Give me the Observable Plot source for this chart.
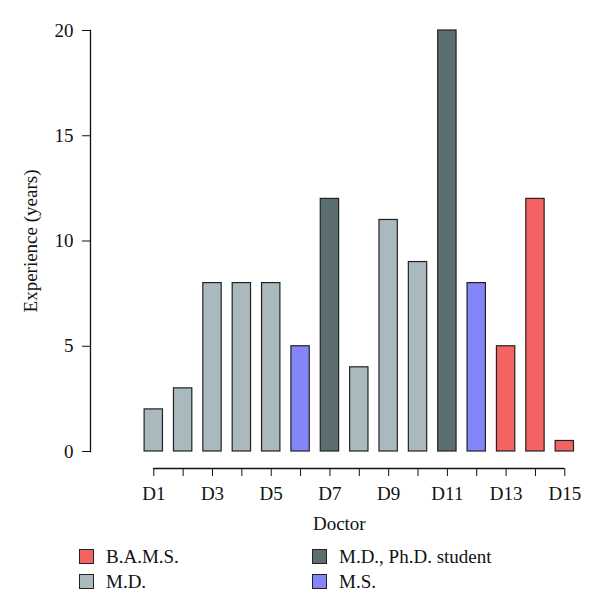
<!DOCTYPE html>
<html><head><meta charset="utf-8">
<script src="https://cdn.jsdelivr.net/npm/d3@7"></script>
<script src="https://cdn.jsdelivr.net/npm/@observablehq/plot@0.6"></script>
<style>
body{margin:0;background:#fff;font-family:"Liberation Serif",serif;}
#chart{width:600px;}
.legend{display:grid;grid-template-columns:233px 260px;grid-template-rows:25px 25px;grid-auto-flow:column;padding-left:79px;margin-top:9px;font-size:19px;color:#111;}
.item{display:flex;align-items:center;}
.sw{width:13px;height:13px;border:1px solid #222;margin-right:12px;}
</style></head><body>
<div id="chart"></div>
<script>
const doctors = ["D1","D2","D3","D4","D5","D6","D7","D8","D9","D10","D11","D12","D13","D14","D15"];
const experience = [2,3,8,8,8,5,12,4,11,9,20,8,5,12,0.5];
const qualification = ["M.D.","M.D.","M.D.","M.D.","M.D.","M.S.","M.D., Ph.D. student","M.D.","M.D.","M.D.","M.D., Ph.D. student","M.S.","B.A.M.S.","B.A.M.S.","B.A.M.S."];
const legendOrder = ["B.A.M.S.","M.D.","M.D., Ph.D. student","M.S."];
const legendColors = ["#f56262","#a9b9be","#5c6f70","#8585fa"];
const yTicks = [0,5,10,15,20];

const data = doctors.map((d,i)=>({doctor:d, years:experience[i], qual:qualification[i]}));

const plot = Plot.plot({
  width:600, height:535, marginTop:30, marginBottom:84, marginLeft:90, marginRight:12.4,
  style:{fontFamily:"Liberation Serif", fontSize:"19px", color:"#111", background:"#fff"},
  x:{domain:doctors, range:[133.1,584.5], padding:0.375, round:false},
  y:{domain:[0,20]},
  color:{domain:legendOrder, range:legendColors},
  marks:[
    Plot.frame({anchor:"left", stroke:"#111", strokeWidth:1.3}),
    Plot.barY(data,{x:"doctor", y:"years", fill:"qual", stroke:"#222", strokeWidth:1.2}),
    Plot.axisY({ticks:yTicks, tickSize:8, tickPadding:9, label:"Experience (years)", labelAnchor:"center", labelOffset:67, labelArrow:"none", fill:"#111"}),
    Plot.ruleY([0], {x1:()=>doctors[0], x2:()=>doctors[doctors.length-1], dy:17, insetLeft:9.2, insetRight:9.2, stroke:"#111", strokeWidth:1.3}),
    Plot.axisX({dy:17, tickSize:8, tickPadding:10, tickFormat:d => doctors.indexOf(d) % 2 === 0 ? d : "", label:"Doctor", labelAnchor:"center", labelOffset:78, labelArrow:"none"})
  ]
});
document.getElementById("chart").appendChild(plot);

const legend = document.createElement("div");
legend.className = "legend";
legendOrder.forEach((q,i)=>{
  const it = document.createElement("div");
  it.className = "item";
  const sw = document.createElement("span");
  sw.className = "sw";
  sw.style.background = legendColors[i];
  const t = document.createElement("span");
  t.textContent = q;
  it.appendChild(sw); it.appendChild(t);
  legend.appendChild(it);
});
document.getElementById("chart").appendChild(legend);
</script>
</body></html>
